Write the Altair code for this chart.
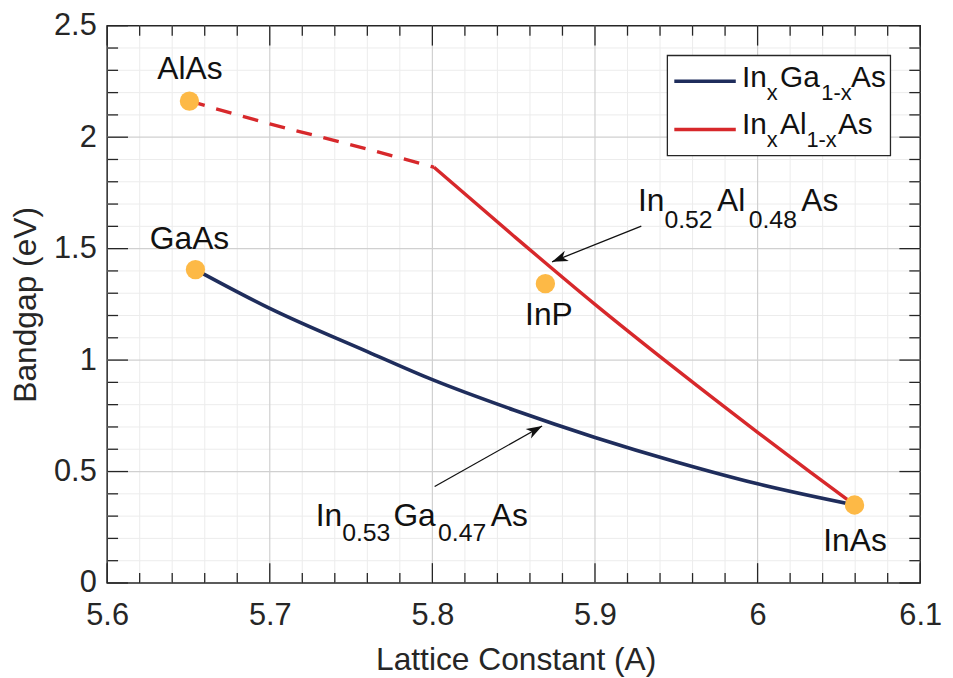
import math
import altair as alt
import pandas as pd

FONT = "Liberation Sans"

# ---------------- data ----------------
compounds = ["AlAs", "GaAs", "InP", "InAs"]
lattice = [5.6506, 5.6543, 5.8695, 6.0596]
bandgap = [2.162, 1.406, 1.343, 0.350]

ingaas_x = [5.6543, 5.70, 5.76, 5.80, 5.85, 5.90, 5.95, 6.00, 6.0596]
ingaas_eg = [1.406, 1.232, 1.038, 0.912, 0.776, 0.653, 0.543, 0.445, 0.350]

inalas_ind_x = [5.6506, 5.70, 5.75, 5.801]
inalas_ind_eg = [2.162, 2.060, 1.966, 1.865]

inalas_dir_x = [5.801, 5.85, 5.90, 5.95, 6.00, 6.032, 6.0596]
inalas_dir_eg = [1.865, 1.557, 1.250, 0.958, 0.676, 0.500, 0.350]

arrow_tail_x = [5.9285, 5.8014]
arrow_tail_y = [1.601, 0.433]
arrow_tip_x = [5.8736, 5.8675]
arrow_tip_y = [1.441, 0.704]

x_major = [5.6, 5.7, 5.8, 5.9, 6.0, 6.1]
x_minor = [5.62, 5.64, 5.66, 5.68, 5.72, 5.74, 5.76, 5.78, 5.82, 5.84, 5.86, 5.88,
           5.92, 5.94, 5.96, 5.98, 6.02, 6.04, 6.06, 6.08]
y_major = [0, 0.5, 1.0, 1.5, 2.0, 2.5]
y_minor = [0.1, 0.2, 0.3, 0.4, 0.6, 0.7, 0.8, 0.9, 1.1, 1.2, 1.3, 1.4,
           1.6, 1.7, 1.8, 1.9, 2.1, 2.2, 2.3, 2.4]

# ---------------- layout / style ----------------
W, H = 820, 562
XD, YD = [5.6, 6.1], [0, 2.5]
BLUE, RED, GOLD = "#1f2d5c", "#d7282b", "#fdb946"
AX = "#262626"

xs = alt.Scale(domain=XD, nice=False, zero=False)
ys = alt.Scale(domain=YD, nice=False, zero=False)

x_axis = alt.Axis(
    values=x_major, format="~g", grid=False, domain=False, ticks=False, tickSize=0,
    labelFont=FONT, labelFontSize=31, labelColor=AX, labelPadding=18,
    labelFlush=False, labelOverlap=False,
    title="Lattice Constant (A)", titleFont=FONT, titleFontSize=32,
    titleFontWeight="normal", titleColor=AX, titleX=412, titleY=87,
    titleBaseline="alphabetic")
y_axis = alt.Axis(
    values=y_major, format="~g", grid=False, domain=False, ticks=False, tickSize=0,
    labelFont=FONT, labelFontSize=31, labelColor=AX, labelPadding=11,
    labelFlush=False, labelOverlap=False,
    title="Bandgap (eV)", titleFont=FONT, titleFontSize=32,
    titleFontWeight="normal", titleColor=AX, titleX=-72, titleY=281,
    titleAngle=270, titleBaseline="alphabetic")


def px(x):
    return (x - XD[0]) / (XD[1] - XD[0]) * W


def py(y):
    return H - (y - YD[0]) / (YD[1] - YD[0]) * H


def Xq(f):
    return alt.X(f, type="quantitative", scale=xs, axis=x_axis)


def Yq(f):
    return alt.Y(f, type="quantitative", scale=ys, axis=y_axis)


one = pd.DataFrame({"k": [0]})
layers = []

# grid
gx_minor = pd.DataFrame({"v": x_minor})
gy_minor = pd.DataFrame({"v": y_minor})
gx_major = pd.DataFrame({"v": [v for v in x_major if XD[0] < v < XD[1]]})
gy_major = pd.DataFrame({"v": [v for v in y_major if YD[0] < v < YD[1]]})
layers.append(alt.Chart(gx_minor).mark_rule(color="#ececec", strokeWidth=1).encode(x=Xq("v")))
layers.append(alt.Chart(gy_minor).mark_rule(color="#ececec", strokeWidth=1).encode(y=Yq("v")))
layers.append(alt.Chart(gx_major).mark_rule(color="#d0d0d0", strokeWidth=1.2).encode(x=Xq("v")))
layers.append(alt.Chart(gy_major).mark_rule(color="#d0d0d0", strokeWidth=1.2).encode(y=Yq("v")))

# inward ticks on all four sides
txM = pd.DataFrame({"v": x_major})
tyM = pd.DataFrame({"v": y_major})
for data, ln in ((txM, 20), (gx_minor, 10)):
    layers.append(alt.Chart(data).mark_rule(color=AX, strokeWidth=1.3).encode(
        x=Xq("v"), y=alt.value(H), y2=alt.value(H - ln)))
    layers.append(alt.Chart(data).mark_rule(color=AX, strokeWidth=1.3).encode(
        x=Xq("v"), y=alt.value(0), y2=alt.value(ln)))
for data, ln in ((tyM, 21), (gy_minor, 11)):
    layers.append(alt.Chart(data).mark_rule(color=AX, strokeWidth=1.3).encode(
        y=Yq("v"), x=alt.value(0), x2=alt.value(ln)))
    layers.append(alt.Chart(data).mark_rule(color=AX, strokeWidth=1.3).encode(
        y=Yq("v"), x=alt.value(W), x2=alt.value(W - ln)))

# curves
ga = pd.DataFrame({"x": ingaas_x, "y": ingaas_eg})
al_i = pd.DataFrame({"x": inalas_ind_x, "y": inalas_ind_eg})
al_d = pd.DataFrame({"x": inalas_dir_x, "y": inalas_dir_eg})
layers.append(alt.Chart(ga).mark_line(color=BLUE, strokeWidth=3.6, interpolate="monotone").encode(
    x=Xq("x"), y=Yq("y")))
layers.append(alt.Chart(al_i).mark_line(color=RED, strokeWidth=3.4, strokeDash=[16, 12],
                                        interpolate="monotone").encode(x=Xq("x"), y=Yq("y")))
layers.append(alt.Chart(al_d).mark_line(color=RED, strokeWidth=3.4, interpolate="monotone").encode(
    x=Xq("x"), y=Yq("y")))

# compound markers
pts = pd.DataFrame({"name": compounds, "x": lattice, "y": bandgap})
layers.append(alt.Chart(pts).mark_circle(size=380, color=GOLD, opacity=1).encode(
    x=Xq("x"), y=Yq("y")))

# compound labels (offsets in pixels from their markers)
label_dx = [0.5, -6, 3.5, 0.5]
label_dy = [-22, -21, 42, 46]
for i, name in enumerate(compounds):
    d = pts.iloc[[i]]
    layers.append(alt.Chart(d).mark_text(
        text=name, font=FONT, fontSize=32, color="#111111", align="center",
        baseline="alphabetic", dx=label_dx[i], dy=label_dy[i]).encode(x=Xq("x"), y=Yq("y")))

# arrows
arr = pd.DataFrame({"x": arrow_tail_x, "y": arrow_tail_y, "x2": arrow_tip_x, "y2": arrow_tip_y})
arr["ang"] = [
    (math.degrees(math.atan2(px(b) - px(a), -(py(d) - py(c)))) + 360) % 360
    for a, b, c, d in zip(arrow_tail_x, arrow_tip_x, arrow_tail_y, arrow_tip_y)
]
layers.append(alt.Chart(arr).mark_rule(color="#111111", strokeWidth=1.3).encode(
    x=Xq("x"), y=Yq("y"), x2="x2", y2="y2"))
HEAD = "M0,0 L0.55,1.6 L0,1.15 L-0.55,1.6 Z"
layers.append(alt.Chart(arr).mark_point(shape=HEAD, filled=True, color="#111111", opacity=1,
                                        size=400, strokeWidth=0).encode(
    x=Xq("x2"), y=Yq("y2"), angle=alt.Angle("ang:Q", scale=None)))

# composite (sub-scripted) annotation labels, anchored at arrow tails
MAIN, SUB = 32, 25
ann = [
    (0, [("In", -3.4, -15, MAIN), ("0.52", 23.3, 1.5, SUB), ("Al", 76.3, -15, MAIN),
         ("0.48", 108.3, 1.5, SUB), ("As", 161.3, -15, MAIN)]),
    (1, [("In", -120, 40.3, MAIN), ("0.53", -93.3, 55.3, SUB), ("Ga", -41.6, 40.3, MAIN),
         ("0.47", 3.4, 55.3, SUB), ("As", 56.7, 40.3, MAIN)]),
]
for idx, pieces in ann:
    d = arr.iloc[[idx]]
    for txt, ddx, ddy, fs in pieces:
        layers.append(alt.Chart(d).mark_text(
            text=txt, font=FONT, fontSize=fs, color="#111111", align="left",
            baseline="alphabetic", dx=ddx, dy=ddy).encode(x=Xq("x"), y=Yq("y")))

# legend (drawn manually to allow subscripts)
layers.append(alt.Chart(one).mark_rect(fill="white", stroke=AX, strokeWidth=1.3).encode(
    x=alt.value(565), x2=alt.value(790), y=alt.value(30), y2=alt.value(131)))
layers.append(alt.Chart(one).mark_rule(color=BLUE, strokeWidth=3.6).encode(
    x=alt.value(572), x2=alt.value(634), y=alt.value(56)))
layers.append(alt.Chart(one).mark_rule(color=RED, strokeWidth=3.4).encode(
    x=alt.value(572), x2=alt.value(634), y=alt.value(104.7)))
LM, LS = 30, 22
legend_pieces = [
    ("In", 640.3, 62, LM), ("x", 665.3, 75, LS), ("Ga", 678.7, 62, LM),
    ("1-x", 720.3, 75, LS), ("As", 750.3, 62, LM),
    ("In", 640.3, 108.7, LM), ("x", 665.3, 122, LS), ("Al", 678.7, 108.7, LM),
    ("1-x", 705.3, 122, LS), ("As", 737, 108.7, LM),
]
for txt, lx, ly, fs in legend_pieces:
    layers.append(alt.Chart(one).mark_text(
        text=txt, font=FONT, fontSize=fs, color="#111111", align="left",
        baseline="alphabetic").encode(x=alt.value(lx), y=alt.value(ly)))

chart = alt.layer(*layers).properties(
    width=W, height=H,
    padding={"left": 100, "top": 15, "right": 25, "bottom": 100},
    autosize=alt.AutoSizeParams(type="none"),
    background="white",
).configure_view(stroke=AX, strokeWidth=1.5)

chart.save("out.html", embed_options={"renderer": "svg", "actions": False})
